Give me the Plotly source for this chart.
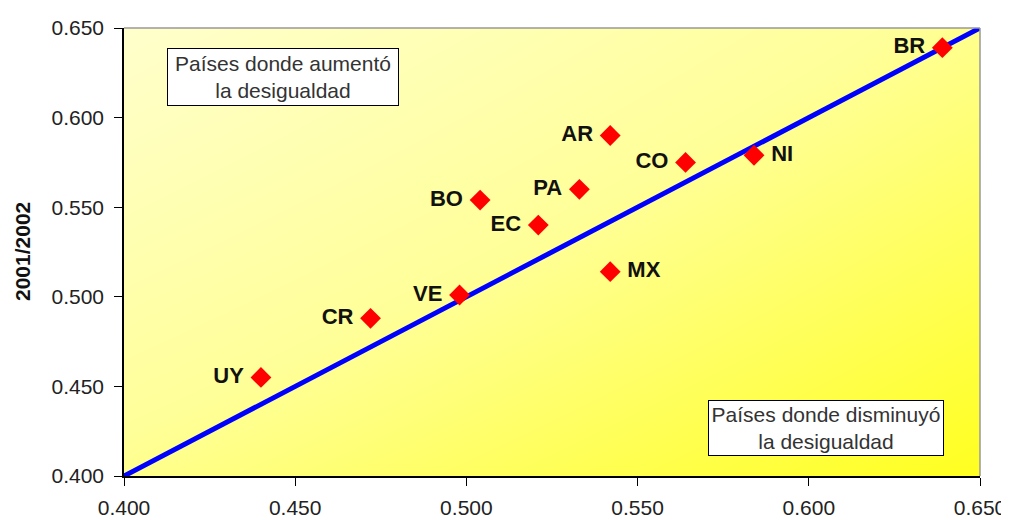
import plotly.graph_objects as go

countries = ["UY", "CR", "VE", "BO", "EC", "PA", "AR", "CO", "MX", "NI", "BR"]
x_1990s = [0.440, 0.472, 0.498, 0.504, 0.521, 0.533, 0.542, 0.564, 0.542, 0.584, 0.639]
y_2001 = [0.455, 0.488, 0.501, 0.554, 0.540, 0.560, 0.590, 0.575, 0.514, 0.579, 0.639]
label_pos = ["middle left", "middle left", "middle left", "middle left", "middle left",
             "middle left", "middle left", "middle left", "middle right", "middle right", "middle left"]
diag = [0.400, 0.650]
tick_vals = [0.400, 0.450, 0.500, 0.550, 0.600, 0.650]
tick_text = ["0.400", "0.450", "0.500", "0.550", "0.600", "0.650"]

FONT = "Liberation Sans, Arial"

# page body has an 8px margin; size the figure so the plot lands where the reference has it
W, H = 1001, 512
ML, MR, MT, MB = 116, 29, 20, 44

# labels with a little extra gap on the marker side
label_text = [
    (c + "\u00a0") if p.endswith("left") else ("\u00a0" + c)
    for c, p in zip(countries, label_pos)
]

fig = go.Figure()

# background gradient
fig.add_trace(go.Heatmap(
    x=diag, y=diag, z=[[0.55, 1.0], [0.0, 0.55]],
    zsmooth="best", showscale=False, hoverinfo="skip",
    colorscale=[[0, "#FFFFCC"], [0.5, "#FFFF99"], [1, "#FFFF20"]],
))

fig.add_trace(go.Scatter(
    x=diag, y=diag, mode="lines",
    line=dict(color="#0000FF", width=5), hoverinfo="skip", showlegend=False,
))

fig.add_trace(go.Scatter(
    x=x_1990s, y=y_2001, mode="markers+text",
    text=label_text, textposition=label_pos,
    textfont=dict(family=FONT, size=22, color="#111111", weight="bold"),
    marker=dict(symbol="diamond", size=16, color="#FF0000"),
    showlegend=False, cliponaxis=False,
))

fig.update_layout(
    width=W, height=H,
    margin=dict(l=ML, r=MR, t=MT, b=MB),
    paper_bgcolor="white", plot_bgcolor="#FFFF99",
    font=dict(family=FONT, size=21, color="#222222"),
    showlegend=False,
    xaxis=dict(range=[0.4, 0.65], tickvals=tick_vals, ticktext=tick_text, automargin=False,
               showgrid=False, zeroline=False, showline=True, linecolor="black", linewidth=1.5,
               ticks="outside", ticklen=8, tickcolor="black", ticklabelstandoff=4,
               tickfont=dict(family=FONT, size=21, color="#222")),
    yaxis=dict(range=[0.4, 0.65], tickvals=tick_vals, ticktext=tick_text, automargin=False,
               showgrid=True, gridcolor="black", gridwidth=1, zeroline=False,
               showline=True, linecolor="black", linewidth=1.5,
               ticks="outside", ticklen=8, tickcolor="black", ticklabelstandoff=6,
               tickfont=dict(family=FONT, size=21, color="#222")),
    shapes=[
        dict(type="line", xref="paper", yref="paper", x0=0, x1=1, y0=1, y1=1,
             line=dict(color="#999999", width=1.5), layer="above"),
        dict(type="line", xref="paper", yref="paper", x0=1, x1=1, y0=0, y1=1,
             line=dict(color="#999999", width=1.5), layer="above"),
    ],
    annotations=[
        dict(x=(14 - ML) / (W - ML - MR), y=0.5, xref="paper", yref="paper", showarrow=False,
             xanchor="center", text="<b>2001/2002</b>", textangle=-90,
             font=dict(family=FONT, size=21, color="#111")),
        dict(x=0.4465, y=0.6225, xref="x", yref="y", showarrow=False,
             text="Países donde aumentó<br>la desigualdad",
             font=dict(family=FONT, size=21, color="#333"), bgcolor="white",
             bordercolor="black", borderwidth=1, borderpad=3, width=224, align="center"),
        dict(x=0.605, y=0.4268, xref="x", yref="y", showarrow=False,
             text="Países donde disminuyó<br>la desigualdad",
             font=dict(family=FONT, size=21, color="#333"), bgcolor="white",
             bordercolor="black", borderwidth=1, borderpad=2, width=230, align="center"),
    ],
)

fig.write_html("out.html")
